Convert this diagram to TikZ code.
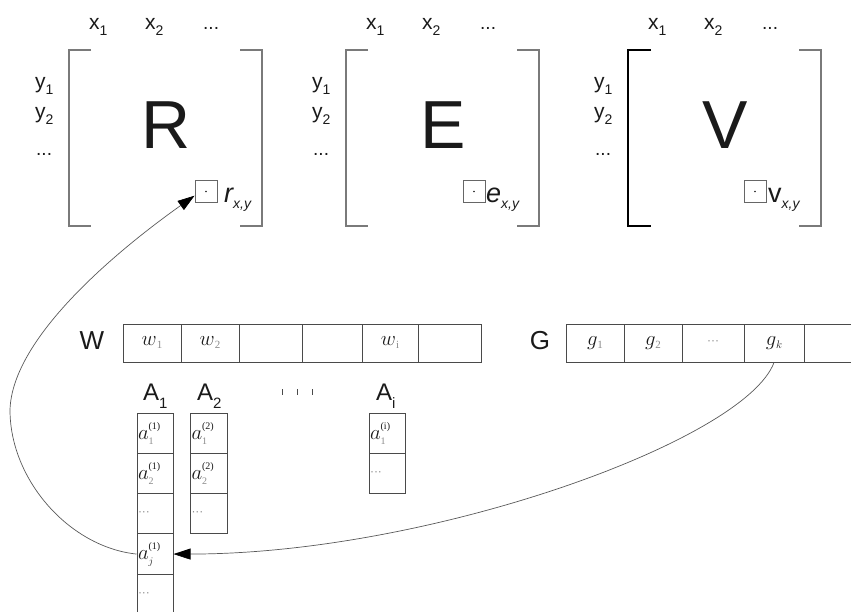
\documentclass[tikz,border=0pt]{standalone}
\usepackage{fontspec}
\setmainfont{Liberation Sans}
\newfontfamily\serf{Liberation Serif}
\usetikzlibrary{arrows.meta}
\definecolor{brk}{HTML}{7A7A7A}
\definecolor{cellline}{HTML}{4A4A4A}
\definecolor{subg}{HTML}{8A8A8A}
\definecolor{ink}{HTML}{1A1A1A}
\newcommand{\fs}[1]{\fontsize{#1}{#1}\selectfont}
\newcommand{\ix}[2]{{\fs{21}#1\raisebox{-6pt}{\fs{14}#2}}}
\newcommand{\cw}[2]{{\fs{21}$#1$}\raisebox{-3pt}{\serf\fs{11}\color{subg}#2}}
\newcommand{\ca}[3]{{\fs{21}$a$}\rlap{\raisebox{10pt}{\serf\fs{10}#3}}\raisebox{-5pt}{\serf\fs{10}\color{subg}#2}}
\newcommand{\cdotsx}{{\color{subg}\fs{12}···}}
\begin{document}
\begin{tikzpicture}[x=1pt,y=-1pt,
  every node/.style={text=ink},
  brkt/.style={draw=brk, line width=1.1pt},
  pix/.style={draw=black!60, line width=0.9pt, minimum width=22pt, minimum height=22pt, inner sep=0pt},
  cell/.style={draw=cellline, line width=1pt, inner sep=0pt, minimum height=38pt},
  acell/.style={draw=cellline, line width=1pt, minimum width=36pt, minimum height=40.3pt, text width=34pt, inner xsep=1pt, inner ysep=0pt, align=left},
  link/.style={draw=black!65, line width=0.7pt, -{Triangle[length=17pt,width=11pt,color=black]}}
]
\useasboundingbox (0,0) rectangle (851,611);

% ---- matrices R, E, V
\foreach \n/\o/\bx/\lx/\lab in {R/0/195/224/{\itshape r}, E/277/463/486/{\itshape e}, V/559/744/768/v} {
  \draw[brkt] ({\o+91},50) -| ({\o+69},226) -- ({\o+91},226);
  \draw[brkt] ({\o+240},50) -| ({\o+262},226) -- ({\o+240},226);
  \node[font=\fs{68}, inner sep=0pt] (M\n) at ({\o+166},125) {\n};
  \node[anchor=base west, inner sep=0pt] (\n-x1) at ({\o+89},29) {\ix{x}{1}};
  \node[anchor=base west, inner sep=0pt] (\n-x2) at ({\o+145},29) {\ix{x}{2}};
  \node[anchor=base west, inner sep=0pt] (\n-xd) at ({\o+203},29) {\fs{19}...};
  \node[anchor=base west, inner sep=0pt] (\n-y1) at ({\o+35},88) {\ix{y}{1}};
  \node[anchor=base west, inner sep=0pt] (\n-y2) at ({\o+35},118) {\ix{y}{2}};
  \node[anchor=base west, inner sep=0pt] (\n-yd) at ({\o+36},155) {\fs{19}...};
  \node[pix] (\n-box) at ({\bx+11},191.5) {};
  \fill[ink] (\n-box.center) circle (0.9pt);
  \node[anchor=base west, inner sep=0pt] (\n-lab) at (\lx,202) {{\fs{27}\lab}\raisebox{-6pt}{\itshape\fs{14}x,y}};
}
\draw[brkt, draw=black] (651,50) -| (628,226) -- (651,226);

% ---- W array
\node[font=\fs{26}, inner sep=0pt] (Wl) at (92,341) {W};
\foreach \i/\a/\b/\t in {1/123/181/{\cw{w}{1}}, 2/181/239/{\cw{w}{2}}, 3/239/302/{}, 4/302/362/{}, 5/362/418/{\cw{w}{i}}, 6/418/481/{}}
  \node[cell, minimum width={(\b-\a)*1pt}] (w\i) at ({(\a+\b)/2},343) {\t};

% ---- G array
\node[font=\fs{26}, inner sep=0pt] (Gl) at (540,341) {G};
\foreach \i/\a/\b/\t in {1/566/624/{\cw{g}{1}}, 2/624/682/{\cw{g}{2}}, 3/682/744/{\cdotsx}, 4/744/804/{\cw{g}{\color{ink}$k$}}, 5/804/862/{}}
  \node[cell, minimum width={(\b-\a)*1pt}] (g\i) at ({(\a+\b)/2},343) {\t};

% ---- A columns
\node[anchor=base west, inner sep=0pt, font=\fs{24}] (A1l) at (143,400) {A\raisebox{-8pt}{\fs{15}1}};
\node[anchor=base west, inner sep=0pt, font=\fs{24}] (A2l) at (197,400) {A\raisebox{-8pt}{\fs{15}2}};
\node[anchor=base west, inner sep=0pt, font=\fs{24}] (Ail) at (376,400) {A\raisebox{-8pt}{\fs{15}i}};
\foreach \xx in {282,297,312} \draw[cellline, line width=1pt] (\xx,389) -- (\xx,395);

\foreach \k/\nm/\t in {1/a11/{\ca{a}{1}{(1)}}, 2/a12/{\ca{a}{2}{(1)}}, 3/a13/{\cdotsx}, 4/a1j/{\ca{a}{\color{ink}$j$}{(1)}}, 5/a15/{\cdotsx}}
  \node[acell] (\nm) at (155,{413+20.15+(\k-1)*40.3}) {\t};
\foreach \k/\nm/\t in {1/a21/{\ca{a}{1}{(2)}}, 2/a22/{\ca{a}{2}{(2)}}, 3/a23/{\cdotsx}}
  \node[acell, minimum width=37pt] (\nm) at (208.5,{413+20.15+(\k-1)*40.3}) {\t};
\foreach \k/\nm/\t in {1/ai1/{\ca{a}{1}{(i)}}, 2/ai2/{\cdotsx}}
  \node[acell] (\nm) at (387,{413+20.15+(\k-1)*40.3}) {\t};

% ---- connectors
\coordinate (bend) at (10,410);
\draw[link] (a1j.west) .. controls +(-67,-7) and (10,480) .. (bend) .. controls (12,335) and (125,245) .. (R-box.200);
\draw[link] (g4.south) .. controls +(-29,78) and +(257,0) .. (a1j.east);
\end{tikzpicture}
\end{document}
